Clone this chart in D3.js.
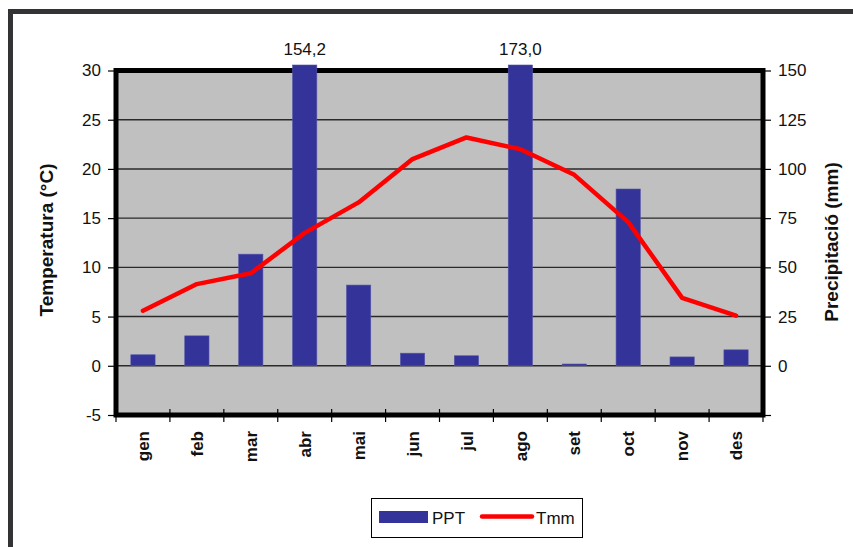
<!DOCTYPE html>
<html><head><meta charset="utf-8">
<script src="https://cdn.jsdelivr.net/npm/d3@7"></script>
<style>
html,body{margin:0;padding:0;background:#fff;}
svg{display:block;font-family:"Liberation Sans",Arial,sans-serif;}
</style></head>
<body>
<script>
const months = ["gen","feb","mar","abr","mai","jun","jul","ago","set","oct","nov","des"];
const ppt = [5.6, 15.2, 56.7, 154.2, 41.0, 6.4, 5.1, 173.0, 0.9, 89.8, 4.5, 8.1];
const tmm = [5.6, 8.3, 9.4, 13.5, 16.6, 21.0, 23.2, 22.0, 19.4, 14.6, 6.9, 5.1];
const tempTicks = [-5,0,5,10,15,20,25,30];
const pptTicks = [0,25,50,75,100,125,150];
const labelledBars = [3, 7];
const seriesNames = ["PPT","Tmm"];

const W = 853, H = 547;
const L = 116, R = 763, T = 70.5, B = 415;
const svg = d3.select("body").append("svg").attr("width", W).attr("height", H);

const x = d3.scaleBand().domain(months).range([L, R]).paddingInner(0).paddingOuter(0);
const yT = d3.scaleLinear().domain([-5, 30]).range([B, T]);
const yP = d3.scaleLinear().domain([-25, 150]).range([B, T]);

// outer frame (left + top)
svg.append("path").attr("d", `M10.5,${H+5} L10.5,11.5 L${W+5},11.5`)
  .attr("fill","none").attr("stroke","#333336").attr("stroke-width",5);

// plot bg
svg.append("rect").attr("x",L).attr("y",T).attr("width",R-L).attr("height",B-T).attr("fill","#c0c0c0");

// gridlines
svg.append("g").selectAll("line").data(tempTicks.filter(t=>t>-5 && t<30)).join("line")
  .attr("x1",L).attr("x2",R).attr("y1",d=>yT(d)).attr("y2",d=>yT(d))
  .attr("stroke","#2a2a2a").attr("stroke-width",1.4);

// left axis
const gl = svg.append("g").attr("transform",`translate(${L},0)`)
  .call(d3.axisLeft(yT).tickValues(tempTicks).tickSize(8).tickPadding(7).tickFormat(d => String(d)));
gl.select(".domain").remove();
gl.selectAll(".tick line").attr("stroke","#000").attr("stroke-width",1.2);
gl.selectAll("text").attr("font-size",17).attr("fill","#111").attr("font-family","Liberation Sans, Arial, sans-serif");

// right axis
const gr = svg.append("g").attr("transform",`translate(${R},0)`)
  .call(d3.axisRight(yP).tickValues([-25].concat(pptTicks)).tickSize(8).tickPadding(7)
    .tickFormat(d => d < 0 ? "" : String(d)));
gr.select(".domain").remove();
gr.selectAll(".tick line").attr("stroke","#000").attr("stroke-width",1.2);
gr.selectAll("text").attr("font-size",17).attr("fill","#111").attr("font-family","Liberation Sans, Arial, sans-serif");

// bottom ticks at category boundaries
const bounds = months.map(m => x(m)).concat([R]);
svg.append("g").selectAll("line").data(bounds).join("line")
  .attr("x1",d=>d).attr("x2",d=>d).attr("y1",B-6).attr("y2",B+7)
  .attr("stroke","#000").attr("stroke-width",1.2);

// month labels
svg.append("g").selectAll("text").data(months).join("text")
  .attr("transform", d => `translate(${x(d)+x.bandwidth()/2},${B+16}) rotate(-90)`)
  .attr("text-anchor","end").attr("dy","0.36em")
  .attr("font-size",17).attr("font-weight","bold").attr("fill","#111")
  .text(d=>d);

// plot border
svg.append("rect").attr("x",L).attr("y",T).attr("width",R-L).attr("height",B-T)
  .attr("fill","none").attr("stroke","#000").attr("stroke-width",5);

// bars
const bw = x.bandwidth()*0.45;
const topClip = yP(150) - 5.5;
svg.append("g").selectAll("rect").data(ppt).join("rect")
  .attr("x",(d,i)=>x(months[i]) + (x.bandwidth()-bw)/2)
  .attr("width",bw)
  .attr("y",d=>Math.max(yP(d), topClip))
  .attr("height",d=>yP(0)-Math.max(yP(d), topClip))
  .attr("fill","#333399").attr("stroke","#5555aa").attr("stroke-width",0.6);

// temperature line
const line = d3.line().x((d,i)=>x(months[i])+x.bandwidth()/2).y(d=>yT(d));
svg.append("path").datum(tmm).attr("d",line)
  .attr("fill","none").attr("stroke","#ff0000").attr("stroke-width",4.5)
  .attr("stroke-linejoin","round").attr("stroke-linecap","round");

// data labels for clipped bars
svg.append("g").selectAll("text").data(labelledBars).join("text")
  .attr("x",i=>x(months[i])+x.bandwidth()/2).attr("y",topClip-10)
  .attr("text-anchor","middle").attr("font-size",17).attr("fill","#111")
  .text(i=>d3.format(".1f")(ppt[i]).replace(".",","));

// axis titles
svg.append("text").attr("transform",`translate(53,240) rotate(-90)`)
  .attr("text-anchor","middle").attr("font-size",19).attr("font-weight","bold").attr("fill","#111")
  .text("Temperatura (°C)");
svg.append("text").attr("transform",`translate(838,242) rotate(-90)`)
  .attr("text-anchor","middle").attr("font-size",19).attr("font-weight","bold").attr("fill","#111")
  .text("Precipitació (mm)");

// legend
const lg = svg.append("g");
lg.append("rect").attr("x",371.5).attr("y",498.5).attr("width",211).attr("height",39)
  .attr("fill","#fff").attr("stroke","#000").attr("stroke-width",1);
lg.append("rect").attr("x",379).attr("y",511).attr("width",49).attr("height",12).attr("fill","#333399");
lg.append("text").attr("x",432).attr("y",524).attr("font-size",17).attr("fill","#111").text(seriesNames[0]);
lg.append("line").attr("x1",482).attr("x2",532).attr("y1",516.5).attr("y2",516.5)
  .attr("stroke","#ff0000").attr("stroke-width",4.5).attr("stroke-linecap","round");
lg.append("text").attr("x",536).attr("y",524).attr("font-size",17).attr("fill","#111").text(seriesNames[1]);
</script>
</body></html>
